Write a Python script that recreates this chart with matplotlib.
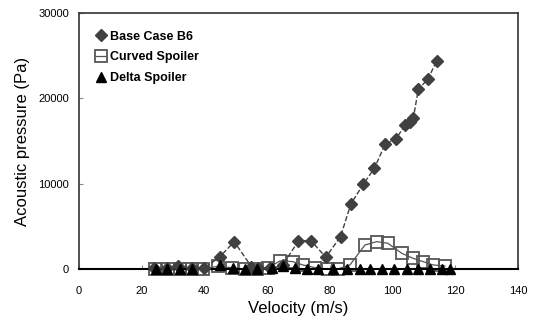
import matplotlib.pyplot as plt

# Data
base_vel = [24, 28, 31.5, 36, 40, 45, 49.5, 55, 57, 61, 65, 70, 74, 78.7, 83.4, 86.7,
            90.7, 94.2, 97.6, 101, 104, 105.5, 106.6, 108.2, 111.2, 114.1]
base_p = [100, 100, 300, 100, 100, 1440, 3200, 270, 100, 100, 500, 3280, 3320, 1370,
          3790, 7620, 9960, 11800, 14610, 15200, 16880, 17260, 17660, 21060, 22230, 24410]

curved_vel = [24.2, 28.4, 32.2, 35.9, 39.6, 44.3, 48.7, 52.9, 56.7, 60.3, 64.1, 68.2,
              71.4, 75.3, 79.4, 82.6, 86.4, 91.2, 94.9, 98.5, 102.9, 106.5, 109.7,
              112.9, 116.7]
curved_p = [0, 0, 0, 0, 50, 300, 150, 0, 0, 100, 940, 860, 470, 150, 0, 0, 470, 2810,
            3200, 3010, 1840, 1250, 860, 470, 350]

delta_vel = [24.5, 28, 32.2, 35.9, 45, 49.1, 52.9, 56.7, 61.4, 65.1, 68.9, 72.6, 76.3,
             81, 85.4, 89.6, 92.8, 96.7, 100.5, 104.5, 108.2, 111.9, 115.7, 118.3]
delta_p = [50, 50, 50, 50, 470, 100, 50, 50, 100, 300, 100, 50, 50, 50, 50, 50, 50,
           50, 50, 50, 50, 50, 50, 50]

fig = plt.figure(figsize=(5.33, 3.26), dpi=100)
ax = fig.add_axes([0.148, 0.175, 0.824, 0.785])

ax.plot(base_vel, base_p, linestyle='--', color='#404040', linewidth=1.0,
        marker='D', markersize=6, markerfacecolor='#404040', markeredgecolor='#404040',
        label='Base Case B6', zorder=3, clip_on=False)
ax.plot(curved_vel, curved_p, linestyle='-', color='#555555', linewidth=0.9,
        marker='s', markersize=9, markerfacecolor='none', markeredgecolor='#555555',
        markeredgewidth=1.3, label='Curved Spoiler', zorder=2, clip_on=False)
ax.plot(delta_vel, delta_p, linestyle='none', color='black',
        marker='^', markersize=7, label='Delta Spoiler', zorder=4, clip_on=False)

ax.set_xlim(0, 140)
ax.set_ylim(0, 30000)
ax.set_xticks(range(0, 141, 20))
ax.set_yticks([0, 10000, 20000, 30000])
ax.tick_params(direction='in', length=3, color='#888888', labelsize=8)
for lab in ax.get_xticklabels() + ax.get_yticklabels():
    lab.set_fontfamily('Liberation Sans')
ax.tick_params(axis='x', pad=12)
ax.tick_params(axis='y', pad=7)

for side in ['left', 'top', 'right']:
    ax.spines[side].set_color('#333333')
    ax.spines[side].set_linewidth(1.2)
ax.spines['bottom'].set_color('black')
ax.spines['bottom'].set_linewidth(1.5)

ax.set_xlabel('Velocity (m/s)', fontsize=12, family='Liberation Sans', labelpad=4)
ax.set_ylabel('Acoustic pressure (Pa)', fontsize=12, family='Liberation Sans', labelpad=6)

leg = ax.legend(loc='upper left', frameon=False, handlelength=0.8, handletextpad=0.3,
                labelspacing=0.7, borderaxespad=1.0,
                prop={'family': 'Liberation Sans', 'weight': 'bold', 'size': 9})

fig.savefig('out.png', dpi=100)
